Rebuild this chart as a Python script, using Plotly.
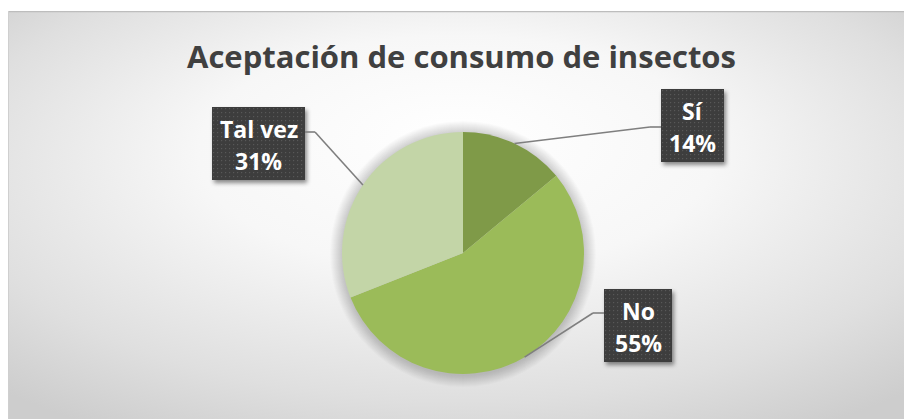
import base64
import math
import plotly.graph_objects as go

W, H = 904, 419

# ---- data ----
labels = ["Sí", "No", "Tal vez"]
values = [14, 55, 31]
colors = ["#7F9A48", "#9BBB59", "#C3D5A7"]
title_text = "Aceptación de consumo de insectos"

total = sum(values)
pcts = [round(v / total * 100) for v in values]


def px(x):
    return x / W


def py(y):
    return 1 - y / H


def svg_uri(svg):
    return "data:image/svg+xml;base64," + base64.b64encode(svg.encode("utf-8")).decode("ascii")


# pie geometry (pixels)
cx, cy, r = 463, 253, 121

fig = go.Figure(
    go.Pie(
        labels=labels,
        values=values,
        sort=False,
        direction="clockwise",
        rotation=0,
        marker=dict(colors=colors, line=dict(width=0)),
        textinfo="none",
        hoverinfo="label+percent",
        domain=dict(x=[px(cx - r), px(cx + r)], y=[py(cy + r), py(cy - r)]),
        showlegend=False,
    )
)

images = []
shapes = []
annotations = []

# ---- background (radial gradient chart area) ----
bx0, by0 = 8, 11
bw, bh = W - bx0, H - by0
bg_svg = f'''<svg xmlns="http://www.w3.org/2000/svg" width="{bw}" height="{bh}" viewBox="0 0 {bw} {bh}" preserveAspectRatio="none">
<defs><radialGradient id="g" cx="0.5" cy="0.42" r="0.72" fx="0.5" fy="0.3">
<stop offset="0" stop-color="#ffffff"/>
<stop offset="0.4" stop-color="#f7f7f7"/>
<stop offset="0.78" stop-color="#dfdfdf"/>
<stop offset="1" stop-color="#cdcdcd"/>
</radialGradient></defs>
<rect width="{bw}" height="{bh}" fill="url(#g)"/>
<line x1="0" y1="0.5" x2="{bw}" y2="0.5" stroke="#bdbdbd" stroke-width="1.5"/>
<line x1="0.5" y1="0" x2="0.5" y2="{bh}" stroke="#cfcfcf" stroke-width="1"/>
</svg>'''
images.append(dict(source=svg_uri(bg_svg), xref="paper", yref="paper",
                   x=px(bx0), y=py(by0), sizex=bw / W, sizey=bh / H,
                   xanchor="left", yanchor="top", sizing="stretch", layer="below"))

# ---- soft shadow around the pie ----
for k in range(1, 13):
    rr = r + k * 1.0
    shapes.append(dict(type="circle", xref="paper", yref="paper",
                       x0=px(cx - rr), x1=px(cx + rr), y0=py(cy + 1 + rr), y1=py(cy + 1 - rr),
                       fillcolor="rgba(0,0,0,0.017)", line=dict(width=0), layer="below"))

# ---- label boxes (position: x0, y0, w, h) and leader elbows ----
boxes = {
    "Sí": dict(x0=661, y0=89, w=63, h=73, elbow=(650, 127), edge=(661, 127)),
    "No": dict(x0=604, y0=289, w=68, h=73, elbow=(593, 313), edge=(604, 313)),
    "Tal vez": dict(x0=212, y0=107, w=93, h=73, elbow=(315, 132), edge=(305, 132)),
}

m = 8
cum = 0
for lab, v, p in zip(labels, values, pcts):
    mid = (cum + v / 2) / total * 2 * math.pi
    cum += v
    ex, ey = cx + r * math.sin(mid), cy - r * math.cos(mid)
    b = boxes[lab]
    # leader line
    (lx, ly), (gx, gy) = b["elbow"], b["edge"]
    shapes.append(dict(type="line", xref="paper", yref="paper",
                       x0=px(ex), y0=py(ey), x1=px(lx), y1=py(ly),
                       line=dict(color="#7f7f7f", width=1.6), layer="above"))
    shapes.append(dict(type="line", xref="paper", yref="paper",
                       x0=px(lx), y0=py(ly), x1=px(gx), y1=py(gy),
                       line=dict(color="#7f7f7f", width=1.6), layer="above"))
    # box image with dotted texture and drop shadow
    iw, ih = b["w"] + 2 * m, b["h"] + 2 * m
    box_svg = f'''<svg xmlns="http://www.w3.org/2000/svg" width="{iw}" height="{ih}" viewBox="0 0 {iw} {ih}">
<defs>
<pattern id="p" width="4" height="4" patternUnits="userSpaceOnUse">
<rect width="4" height="4" fill="#3c3c3c"/><rect x="1" y="1" width="1.2" height="1.2" fill="#595959"/>
</pattern>
<filter id="s" x="-30%" y="-30%" width="160%" height="160%">
<feDropShadow dx="2" dy="3" stdDeviation="2" flood-color="#000" flood-opacity="0.45"/>
</filter>
</defs>
<rect x="{m}" y="{m}" width="{b['w']}" height="{b['h']}" fill="url(#p)" filter="url(#s)"/>
</svg>'''
    images.append(dict(source=svg_uri(box_svg), xref="paper", yref="paper",
                       x=px(b["x0"] - m), y=py(b["y0"] - m), sizex=iw / W, sizey=ih / H,
                       xanchor="left", yanchor="top", sizing="stretch", layer="above"))
    bxc = b["x0"] + b["w"] / 2
    for txt, off in ((lab, 22), (f"{p}%", 54)):
        annotations.append(dict(text=f"<b>{txt}</b>", xref="paper", yref="paper",
                                x=px(bxc), y=py(b["y0"] + off), xanchor="center", yanchor="middle",
                                showarrow=False,
                                font=dict(family="Open Sans", size=23, color="#ffffff")))

# ---- title ----
annotations.append(dict(text=f"<b>{title_text}</b>", xref="paper", yref="paper",
                        x=px(462), y=py(56), xanchor="center", yanchor="middle", showarrow=False,
                        font=dict(family="Open Sans", size=31, color="#404040")))

fig.update_layout(
    width=W, height=H, autosize=False,
    margin=dict(l=0, r=0, t=0, b=0, pad=0),
    paper_bgcolor="#ffffff",
    plot_bgcolor="#ffffff",
    images=images, shapes=shapes, annotations=annotations,
    showlegend=False,
)

fig.write_html("out.html",
               config={"displayModeBar": False},
               post_script="document.body.style.margin='0';document.body.style.overflow='hidden';")
